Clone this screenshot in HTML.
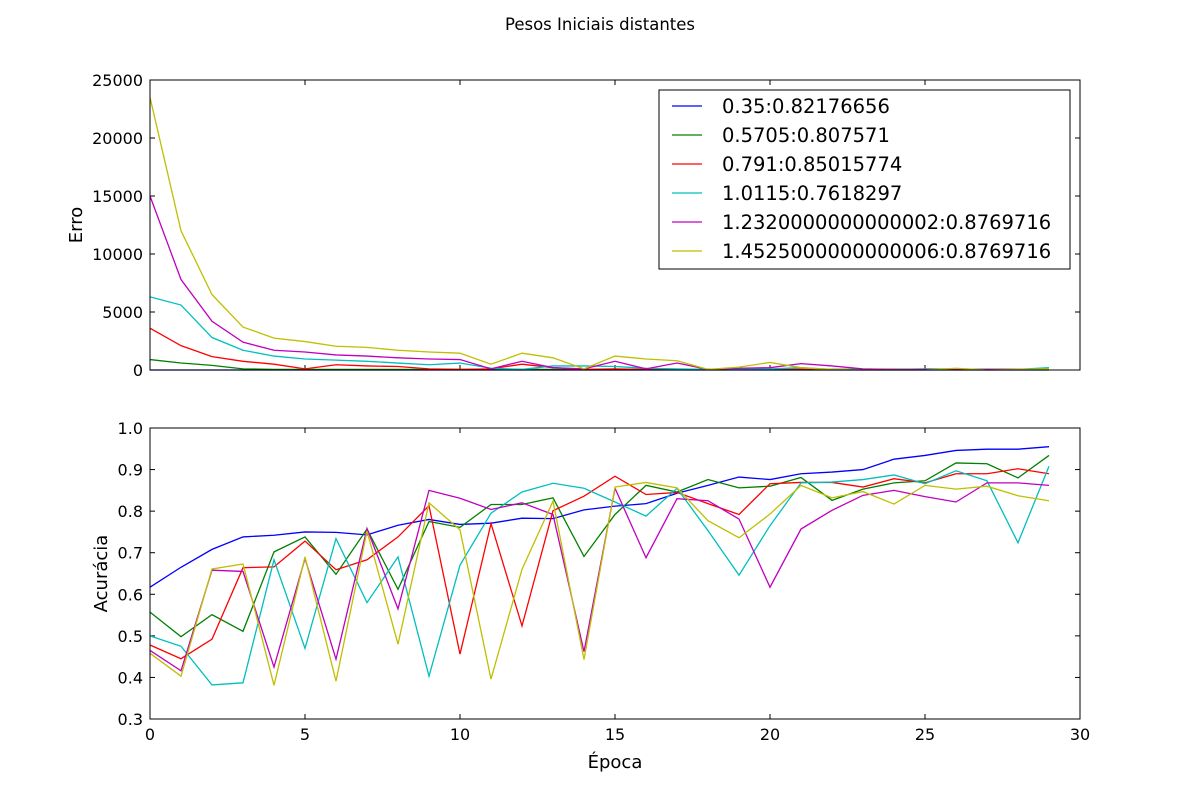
<!DOCTYPE html>
<html><head><meta charset="utf-8"><style>
body{margin:0;background:#fff;}
svg text{font-family:"DejaVu Sans","Liberation Sans",sans-serif;fill:#000;}
</style></head><body>
<svg id="chart" width="1200" height="800" xmlns="http://www.w3.org/2000/svg">
<rect width="1200" height="800" fill="#fff"/>
<text x="600" y="30" font-size="16.5" text-anchor="middle">Pesos Iniciais distantes</text>
<g id="top"></g>
<g id="bot"></g>
<g id="legend"></g>
</svg>
<script>
const epochs = Array.from({length:30},(_,i)=>i);
const seriesNames = ["0.35:0.82176656","0.5705:0.807571","0.791:0.85015774","1.0115:0.7618297","1.2320000000000002:0.8769716","1.4525000000000006:0.8769716"];
const colors = ["#0000ff","#008000","#ff0000","#00bfbf","#bf00bf","#bfbf00"];
const errBlue = [0,0,0,0,0,0,0,0,0,0,0,0,0,0,0,0,0,0,0,0,0,0,0,0,0,0,0,0,0,0];
const errGreen = [900,600,400,100,50,50,50,50,50,50,50,50,50,50,50,50,50,50,50,50,50,50,50,50,50,50,50,50,50,50];
const errRed = [3600,2100,1150,750,500,100,450,350,300,100,50,100,500,200,50,100,50,50,50,50,50,50,50,50,50,50,50,50,50,50];
const errCyan = [6300,5600,2800,1700,1200,950,850,750,600,450,600,150,50,350,350,300,150,100,50,100,100,200,50,50,50,100,100,50,50,200];
const errMagenta = [15000,7800,4200,2400,1700,1550,1300,1200,1050,950,900,100,750,200,100,750,100,600,50,150,200,550,350,100,50,50,50,50,50,50];
const errYellow = [23500,12000,6500,3700,2750,2450,2050,1950,1700,1550,1450,500,1450,1050,100,1200,950,800,50,250,650,200,50,0,0,0,150,0,50,100];
const accBlue = [0.617,0.665,0.708,0.738,0.742,0.750,0.749,0.743,0.766,0.780,0.768,0.771,0.783,0.782,0.803,0.812,0.818,0.843,0.862,0.882,0.876,0.890,0.894,0.900,0.925,0.934,0.946,0.949,0.949,0.955];
const accGreen = [0.557,0.498,0.551,0.511,0.702,0.738,0.648,0.757,0.612,0.775,0.761,0.816,0.816,0.832,0.691,0.792,0.862,0.846,0.876,0.856,0.860,0.881,0.826,0.853,0.868,0.873,0.916,0.914,0.880,0.934];
const accRed = [0.478,0.445,0.492,0.664,0.666,0.728,0.659,0.683,0.738,0.813,0.456,0.770,0.524,0.801,0.836,0.884,0.840,0.845,0.818,0.792,0.866,0.869,0.869,0.858,0.878,0.868,0.890,0.890,0.902,0.890];
const accCyan = [0.500,0.475,0.382,0.387,0.683,0.470,0.734,0.580,0.690,0.403,0.670,0.795,0.846,0.867,0.855,0.822,0.788,0.855,0.753,0.646,0.765,0.868,0.870,0.876,0.887,0.866,0.897,0.873,0.724,0.908];
const accMagenta = [0.465,0.416,0.658,0.655,0.425,0.686,0.444,0.758,0.565,0.850,0.831,0.804,0.820,0.792,0.462,0.855,0.688,0.830,0.825,0.781,0.617,0.757,0.802,0.838,0.850,0.835,0.822,0.868,0.868,0.862];
const accYellow = [0.458,0.403,0.661,0.673,0.381,0.690,0.391,0.752,0.480,0.820,0.755,0.396,0.660,0.824,0.443,0.858,0.869,0.856,0.777,0.736,0.793,0.862,0.832,0.847,0.817,0.862,0.853,0.860,0.837,0.825];
const errTicks = [0,5000,10000,15000,20000,25000];
const accTicks = [0.3,0.4,0.5,0.6,0.7,0.8,0.9,1.0];
const xTicks = [0,5,10,15,20,25,30];

const NS="http://www.w3.org/2000/svg";
function mk(tag,attrs,parent,txt){const e=document.createElementNS(NS,tag);for(const k in attrs)e.setAttribute(k,attrs[k]);if(txt!==undefined)e.textContent=txt;parent.appendChild(e);return e;}
const X0=150,X1=1080;
const xs=v=>X0+(v-0)/30*(X1-X0);
function axes(g,top,bottom,ymin,ymax,ticks,fmt,name,ylab,ylabX){
  const ys=v=>bottom-(v-ymin)/(ymax-ymin)*(bottom-top);
  for(const t of ticks){
    const y=ys(t);
    mk('line',{x1:X0,y1:y,x2:X0+5,y2:y,stroke:'#000'},g);
    mk('line',{x1:X1,y1:y,x2:X1-5,y2:y,stroke:'#000'},g);
    const tl=mk('text',{x:X0-7,y:y+6,'font-size':16,'text-anchor':'end'},g,fmt(t));
    
    
  }
  for(const t of xTicks){
    const x=xs(t);
    mk('line',{x1:x,y1:bottom,x2:x,y2:bottom-5,stroke:'#000'},g);
    mk('line',{x1:x,y1:top,x2:x,y2:top+5,stroke:'#000'},g);
  }
  const yl=mk('text',{x:ylabX,y:(top+bottom)/2,'font-size':18,'text-anchor':'middle',transform:`rotate(-90 ${ylabX} ${(top+bottom)/2})`},g,ylab);
  
  
  return ys;
}
function drawSeries(g,ys,data,prefix){
  data.forEach((arr,i)=>{
    const p=mk('polyline',{points:arr.map((v,j)=>xs(epochs[j])+','+ys(v)).join(' '),fill:'none',stroke:colors[i],'stroke-width':1.3},g);
    
    
  });
}
const gt=document.getElementById('top'), gb=document.getElementById('bot');
const ysT=axes(gt,80,370,0,25000,errTicks,t=>String(t),'error','Erro',82);
drawSeries(gt,ysT,[errBlue,errGreen,errRed,errCyan,errMagenta,errYellow],'error');
mk('rect',{x:X0,y:80,width:X1-X0,height:290,fill:'none',stroke:'#000'},gt);
const ysB=axes(gb,428,719,0.3,1.0,accTicks,t=>t.toFixed(1),'accuracy','Acurácia',107);
drawSeries(gb,ysB,[accBlue,accGreen,accRed,accCyan,accMagenta,accYellow],'accuracy');
mk('rect',{x:X0,y:428,width:X1-X0,height:291,fill:'none',stroke:'#000'},gb);
for(const t of xTicks){
  const tl=mk('text',{x:xs(t),y:740,'font-size':16,'text-anchor':'middle'},gb,String(t));
  
  
}
const xl=mk('text',{x:615,y:768,'font-size':18,'text-anchor':'middle'},gb,'Época');


const gl=document.getElementById('legend');
mk('rect',{x:659,y:90,width:411,height:179,fill:'#fff',stroke:'#000'},gl);
seriesNames.forEach((n,i)=>{
  const y=106+i*29;
  const e=mk('g',{},gl);
  
  
  mk('line',{x1:672,y1:y,x2:702,y2:y,stroke:colors[i],'stroke-width':1.3},e);
  mk('text',{x:722,y:y+7,'font-size':19.5},e,n);
});
</script>
</body></html>
